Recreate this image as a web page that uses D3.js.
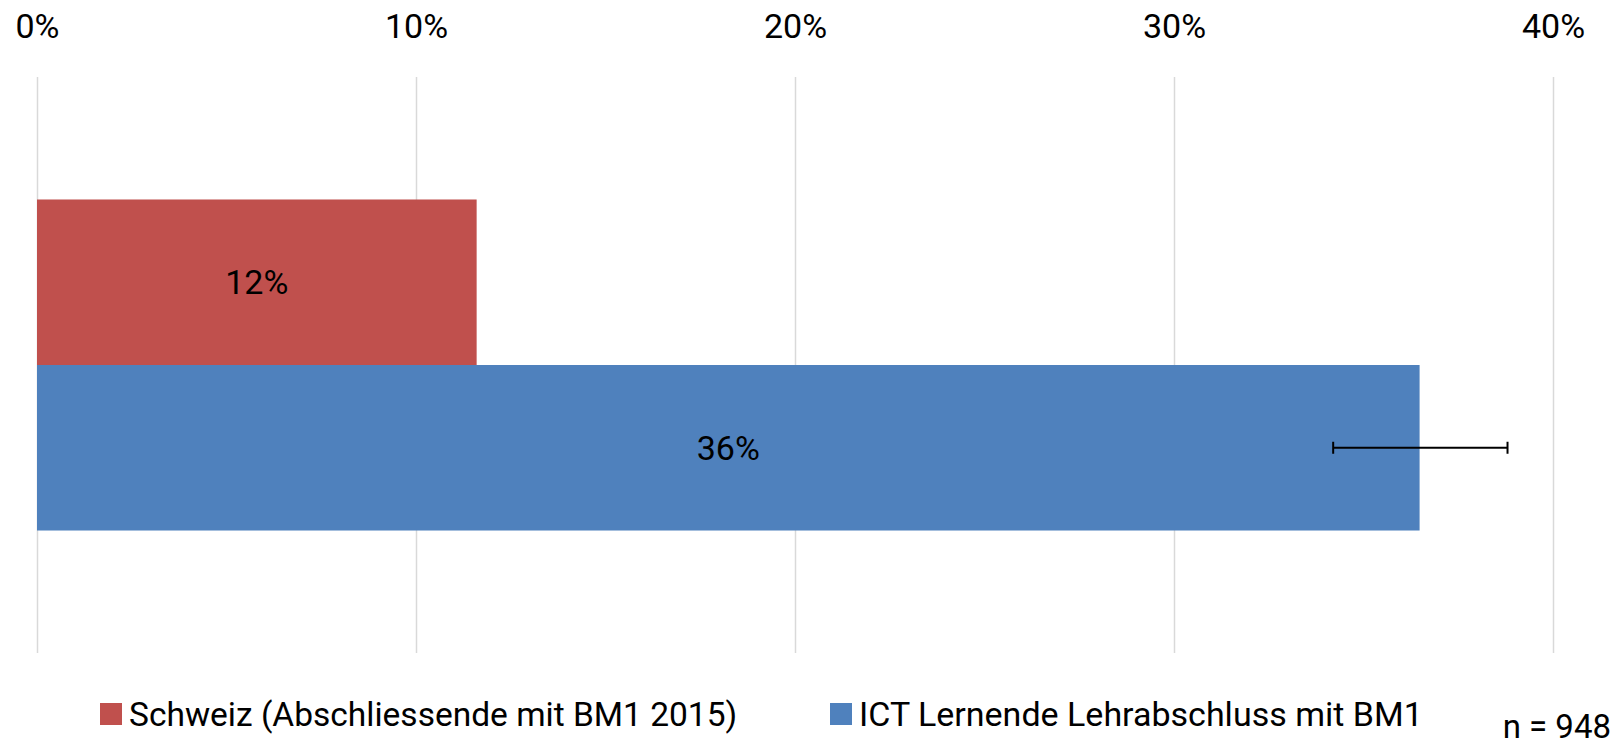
<!DOCTYPE html>
<html>
<head>
<meta charset="utf-8">
<script src="https://cdn.jsdelivr.net/npm/d3@7"></script>
<style>
  body { margin: 0; background: #fff; }
  text { font-family: Roboto, "Liberation Sans", sans-serif; fill: #000; }
</style>
</head>
<body>
<div id="chart"></div>
<script>
"use strict";

// data
var seriesNames = ["Schweiz (Abschliessende mit BM1 2015)", "ICT Lernende Lehrabschluss mit BM1"];
var seriesValues = [11.6, 36.48];          // percent
var seriesColors = ["#C0504D", "#4F81BD"];
var errorLow = [null, 34.2];               // error bar ends, percent
var errorHigh = [null, 38.8];
var xTicks = [0, 10, 20, 30, 40];
var noteText = "n = 948";

var width = 1614, height = 747;
var plot = { left: 37, right: 1553, top: 77, bottom: 653 };
var fontSize = 34;

var x = d3.scaleLinear()
          .domain([0, 40])
          .range([plot.left, plot.right]);

var y = d3.scaleBand()
          .domain(seriesNames)
          .range([plot.top, plot.bottom])
          .paddingInner(0)
          .paddingOuter(0.74);

var svg = d3.select("#chart")
            .append("svg")
              .attr("width", width)
              .attr("height", height);

// gridlines
svg.append("g")
    .attr("id", "grid")
  .selectAll("line").data(xTicks)
  .join("line")
    .attr("x1", d => x(d) + 0.5)
    .attr("x2", d => x(d) + 0.5)
    .attr("y1", plot.top)
    .attr("y2", plot.bottom)
    .attr("stroke", "#D9D9D9")
    .attr("stroke-width", 1.5);

// top axis
var xAxis = d3.axisTop(x)
  .tickValues(xTicks)
  .tickSize(0)
  .tickPadding(0)
  .tickFormat(d => d + "%");

var axisG = svg.append("g")
    .attr("transform", "translate(0,38)")
    .call(xAxis);
axisG.select(".domain").remove();
axisG.selectAll("text")
    .style("font-size", fontSize + "px")
    .attr("dy", 0)
    .style("font-family", "Roboto, 'Liberation Sans', sans-serif");

// bars
svg.append("g")
    .attr("id", "bars")
  .selectAll("rect").data(seriesNames)
  .join("rect")
    .attr("x", x(0))
    .attr("y", d => y(d))
    .attr("width", (d, i) => x(seriesValues[i]) - x(0))
    .attr("height", y.bandwidth())
    .attr("fill", (d, i) => seriesColors[i]);

// data labels
svg.append("g")
    .attr("id", "labels")
  .selectAll("text").data(seriesNames)
  .join("text")
    .attr("x", (d, i) => (x(0) + x(seriesValues[i])) / 2)
    .attr("y", d => y(d) + y.bandwidth() / 2)
    .attr("text-anchor", "middle")
    .attr("dominant-baseline", "central")
    .style("font-size", fontSize + "px")
    .text((d, i) => Math.round(seriesValues[i]) + "%");

// error bars
var errG = svg.append("g").attr("id", "errors");
seriesNames.forEach(function(d, i) {
  if (errorLow[i] === null) return;
  var cy = y(d) + y.bandwidth() / 2;
  errG.append("line")
      .attr("x1", x(errorLow[i])).attr("x2", x(errorHigh[i]))
      .attr("y1", cy).attr("y2", cy)
      .attr("stroke", "#000").attr("stroke-width", 2);
  [errorLow[i], errorHigh[i]].forEach(function(v) {
    errG.append("line")
        .attr("x1", x(v)).attr("x2", x(v))
        .attr("y1", cy - 6).attr("y2", cy + 6)
        .attr("stroke", "#000").attr("stroke-width", 2);
  });
});

// legend
var legendX = [100, 830];
var legend = svg.append("g").attr("id", "legend");
legend.selectAll("rect").data(seriesNames)
  .join("rect")
    .attr("x", (d, i) => legendX[i])
    .attr("y", 703)
    .attr("width", 22)
    .attr("height", 22)
    .attr("fill", (d, i) => seriesColors[i]);

legend.selectAll("text").data(seriesNames)
  .join("text")
    .attr("x", (d, i) => legendX[i] + 29)
    .attr("y", 714)
    .attr("dominant-baseline", "central")
    .style("font-size", (d, i) => (i === 0 ? 33.5 : fontSize) + "px")
    .text(d => d);

// sample size note
svg.append("text")
    .attr("x", 1611)
    .attr("y", 726)
    .attr("text-anchor", "end")
    .attr("dominant-baseline", "central")
    .style("font-size", "33px")
    .text(noteText);
</script>
</body>
</html>
